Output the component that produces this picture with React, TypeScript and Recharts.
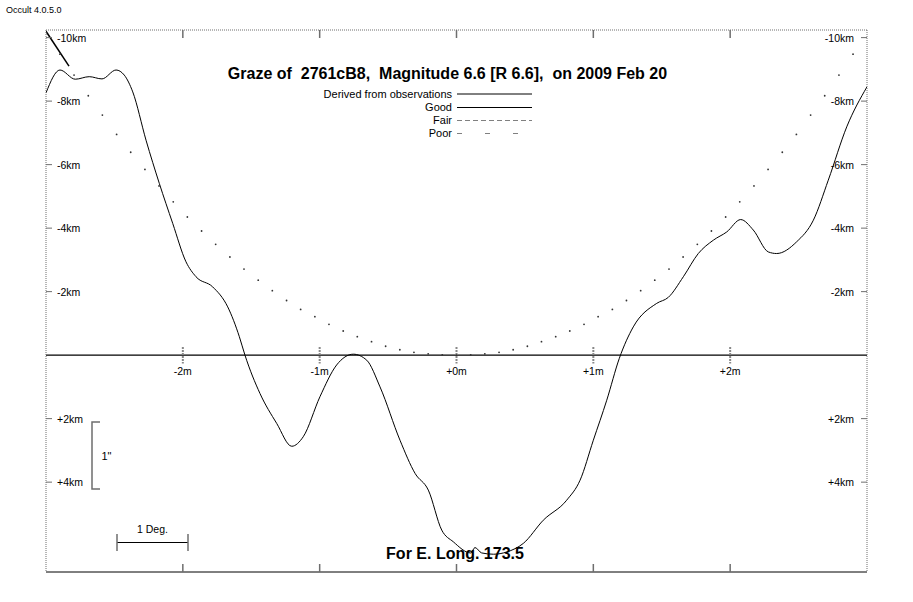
import React from "react";
import { LineChart, Line, XAxis, YAxis, ReferenceLine } from "recharts";

// observed limb profile (minutes, km)
const profileX = [
  -3.0, -2.898, -2.786, -2.684, -2.591, -2.488, -2.428, -2.366, -2.269, -2.172,
  -2.074, -1.977, -1.904, -1.782, -1.672, -1.587, -1.546, -1.436, -1.314, -1.204,
  -1.12, -0.998, -0.876, -0.754, -0.656, -0.559, -0.413, -0.302, -0.206, -0.108,
  -0.023, 0.104, 0.135, 0.184, 0.27, 0.367, 0.488, 0.634, 0.805, 0.903, 1.0,
  1.098, 1.19, 1.292, 1.463, 1.548, 1.658, 1.767, 1.877, 1.975, 2.077, 2.169,
  2.279, 2.34, 2.486, 2.608, 2.717, 2.852, 3.0,
];
const profileKm = [
  -8.26, -8.98, -8.69, -8.77, -8.7, -8.98, -8.82, -8.29, -6.77, -5.41,
  -4.15, -2.94, -2.47, -2.15, -1.52, -0.58, 0, 1.21, 2.15, 2.87,
  2.57, 1.31, 0.31, -0.03, 0.16, 1.0, 2.68, 3.73, 4.25, 5.51,
  5.88, 6.23, 6.06, 6.23, 6.27, 6.2, 5.93, 5.2, 4.57, 3.94, 2.68,
  1.42, 0.1, -0.89, -1.63, -1.82, -2.47, -3.2, -3.62, -3.88, -4.27, -3.94,
  -3.25, -3.2, -3.57, -4.25, -5.51, -7.19, -8.45,
];

// mean limb (dotted)
const limbX = [
  -2.898, -2.795, -2.691, -2.588, -2.484, -2.381, -2.277, -2.174, -2.07, -1.967,
  -1.863, -1.76, -1.656, -1.553, -1.449, -1.346, -1.242, -1.139, -1.035, -0.932,
  -0.828, -0.725, -0.621, -0.518, -0.414, -0.311, -0.207, -0.104, 0,
  0.104, 0.207, 0.311, 0.414, 0.518, 0.621, 0.725, 0.828, 0.932, 1.035,
  1.139, 1.242, 1.346, 1.449, 1.553, 1.656, 1.76, 1.863, 1.967, 2.07,
  2.174, 2.277, 2.381, 2.484, 2.588, 2.691, 2.795, 2.898,
];
const limbKm = [
  -9.48, -8.82, -8.17, -7.56, -6.95, -6.39, -5.85, -5.33, -4.83, -4.35,
  -3.91, -3.49, -3.09, -2.71, -2.36, -2.03, -1.72, -1.44, -1.21, -0.97,
  -0.76, -0.58, -0.425, -0.28, -0.17, -0.09, -0.04, -0.01, 0,
  -0.01, -0.04, -0.09, -0.17, -0.28, -0.425, -0.58, -0.76, -0.97, -1.21,
  -1.44, -1.72, -2.03, -2.36, -2.71, -3.09, -3.49, -3.91, -4.35, -4.83,
  -5.33, -5.85, -6.39, -6.95, -7.56, -8.17, -8.82, -9.48,
];

const pointerX = [-3.0, -2.832];
const pointerKm = [-10.2, -9.1];

const minuteTicks = [-2, -1, 0, 1, 2];
const minuteLabels = ["-2m", "-1m", "+0m", "+1m", "+2m"];
const kmTicks = [-10, -8, -6, -4, -2, 2, 4];

const FONT = "'Liberation Sans', Arial, sans-serif";
const GREY = "#6e6e6e";

const zip = (xs: number[], ys: number[]) => xs.map((x, i) => ({ x, y: ys[i] }));
const kmLabel = (v: number) => (v > 0 ? `+${v}km` : `${v}km`);

const LeftTick = ({ x, y, payload }: any) => (
  <g>
    <line x1={x} x2={x + 6} y1={y} y2={y} stroke={GREY} />
    <text x={x + 11} y={y + 4} fontSize={10.5} fontFamily={FONT} fill="#000">
      {kmLabel(payload.value)}
    </text>
  </g>
);

const RightTick = ({ x, y, payload }: any) => (
  <g>
    <line x1={x - 6} x2={x} y1={y} y2={y} stroke={GREY} />
    <text x={x - 13} y={y + 4} fontSize={10.5} fontFamily={FONT} fill="#000" textAnchor="end">
      {kmLabel(payload.value)}
    </text>
  </g>
);

const BottomTick = ({ x, y }: any) => (
  <line x1={x} x2={x} y1={y} y2={y - 8} stroke={GREY} strokeWidth={1.5} />
);
const TopTick = ({ x, y }: any) => (
  <line x1={x} x2={x} y1={y} y2={y + 8} stroke={GREY} strokeWidth={1.5} />
);

export default function App() {
  const txt = { fontFamily: FONT, fill: "#000" } as const;
  return (
    <div style={{ position: "absolute", left: 0, top: 0, width: 913, height: 602, background: "#fff" }}>
      <LineChart width={913} height={602} margin={{ top: 29, right: 45, bottom: 29, left: 45 }}>
        <XAxis
          dataKey="x"
          type="number"
          domain={[-3, 3]}
          ticks={minuteTicks}
          allowDataOverflow
          height={1}
          tickSize={0}
          tickMargin={0}
          axisLine={{ stroke: "#000" }}
          tickLine={false}
          tick={<BottomTick />}
        />
        <XAxis
          xAxisId="top"
          orientation="top"
          dataKey="x"
          type="number"
          domain={[-3, 3]}
          ticks={minuteTicks}
          allowDataOverflow
          height={1}
          tickSize={0}
          tickMargin={0}
          axisLine={{ stroke: GREY, strokeDasharray: "1 1" }}
          tickLine={false}
          tick={<TopTick />}
        />
        <YAxis
          type="number"
          domain={[-10.24, 6.83]}
          reversed
          ticks={kmTicks}
          allowDataOverflow
          width={1}
          tickSize={0}
          tickMargin={0}
          axisLine={{ stroke: GREY, strokeDasharray: "1 1" }}
          tickLine={false}
          tick={<LeftTick />}
        />
        <YAxis
          yAxisId="right"
          orientation="right"
          type="number"
          domain={[-10.24, 6.83]}
          reversed
          ticks={kmTicks}
          allowDataOverflow
          width={1}
          tickSize={0}
          tickMargin={0}
          axisLine={{ stroke: GREY, strokeDasharray: "1 1" }}
          tickLine={false}
          tick={<RightTick />}
        />
        <ReferenceLine y={0} stroke="#000" strokeWidth={1.2} />
        {minuteTicks.map((m, i) => (
          <ReferenceLine
            key={m}
            segment={[
              { x: m, y: -0.26 },
              { x: m, y: 0.26 },
            ]}
            stroke="#888"
            strokeWidth={2}
            strokeDasharray="2 1"
            label={{ value: minuteLabels[i], position: "bottom", offset: 4, fontSize: 10.5, fontFamily: FONT, fill: "#000" }}
          />
        ))}
        <Line
          data={zip(limbX, limbKm)}
          dataKey="y"
          stroke="none"
          dot={{ r: 0.9, fill: "#333", stroke: "none" }}
          activeDot={false}
          isAnimationActive={false}
        />
        <Line
          data={zip(profileX, profileKm)}
          dataKey="y"
          type="monotone"
          stroke="#000"
          strokeWidth={1}
          dot={false}
          activeDot={false}
          isAnimationActive={false}
        />
        <Line
          data={zip(pointerX, pointerKm)}
          dataKey="y"
          type="linear"
          stroke="#000"
          strokeWidth={1.5}
          dot={false}
          activeDot={false}
          isAnimationActive={false}
        />
      </LineChart>

      <svg
        width={913}
        height={602}
        style={{ position: "absolute", left: 0, top: 0, pointerEvents: "none" }}
      >
        <text x={6} y={12.5} fontSize={9} {...txt}>Occult 4.0.5.0</text>
        <text x={447.5} y={78.5} fontSize={16} fontWeight="bold" textAnchor="middle" style={{ whiteSpace: "pre" }} {...txt}>
          {"Graze of  2761cB8,  Magnitude 6.6 [R 6.6],  on 2009 Feb 20"}
        </text>

        <text x={452} y={97.5} fontSize={11} textAnchor="end" {...txt}>Derived from observations</text>
        <line x1={457} x2={532} y1={94} y2={94} stroke="#000" />
        <text x={452} y={111} fontSize={11} textAnchor="end" {...txt}>Good</text>
        <line x1={457} x2={532} y1={107.5} y2={107.5} stroke="#000" />
        <text x={452} y={124} fontSize={11} textAnchor="end" {...txt}>Fair</text>
        <line x1={457} x2={532} y1={120.5} y2={120.5} stroke="#808080" strokeDasharray="5 3" />
        <text x={452} y={137} fontSize={11} textAnchor="end" {...txt}>Poor</text>
        <line x1={457} x2={532} y1={133.5} y2={133.5} stroke="#808080" strokeDasharray="5 23" />

        <polyline points="100,422 92,422 92,489 100,489" fill="none" stroke={GREY} strokeWidth={1.5} />
        <text x={101.5} y={460} fontSize={11} {...txt}>1"</text>

        <line x1={117} x2={188} y1={542.5} y2={542.5} stroke="#000" />
        <line x1={117} x2={117} y1={534} y2={551} stroke={GREY} strokeWidth={1.5} />
        <line x1={188} x2={188} y1={534} y2={551} stroke={GREY} strokeWidth={1.5} />
        <text x={152.5} y={532.5} fontSize={10.5} textAnchor="middle" {...txt}>1 Deg.</text>

        <text x={455} y={558.5} fontSize={16} fontWeight="bold" textAnchor="middle" {...txt}>For E. Long. 173.5</text>
      </svg>
    </div>
  );
}
